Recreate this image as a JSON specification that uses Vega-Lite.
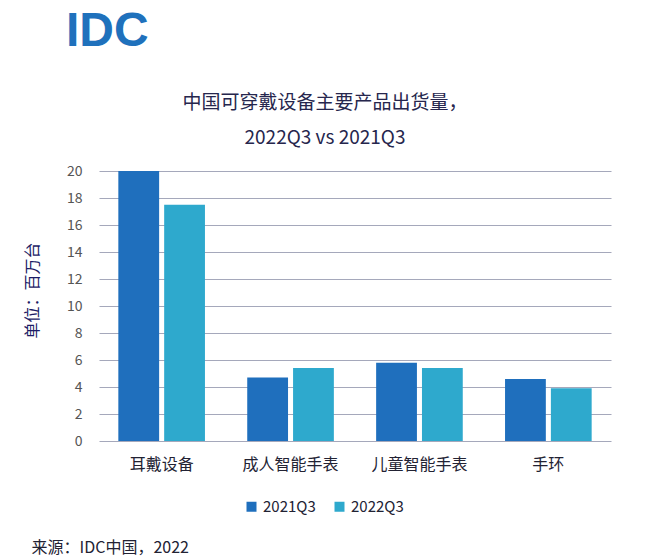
{
  "$schema": "https://vega.github.io/schema/vega-lite/v6.json",
  "background": "white",
  "padding": {"left": 24, "top": 8, "right": 5, "bottom": 5},
  "title": {"text": "IDC", "anchor": "start", "frame": "bounds", "font": "Liberation Sans", "fontWeight": "bold", "fontSize": 48, "color": "#1f71bc", "dx": 42, "offset": 38},
  "config": {"view": {"stroke": null}, "font": "Noto Sans CJK SC"},
  "vconcat": [
    {
      "width": 512,
      "height": 270,
      "title": {"text": ["中国可穿戴设备主要产品出货量，", "2022Q3 vs 2021Q3"], "font": "Noto Sans CJK SC", "fontSize": 19, "fontWeight": "normal", "color": "#26264d", "lineHeight": 35, "anchor": "middle", "frame": "group", "dx": -30, "offset": 16},
      "data": {"values": [
        {"product": "耳戴设备", "period": "2021Q3", "value": 20.0},
        {"product": "耳戴设备", "period": "2022Q3", "value": 17.5},
        {"product": "成人智能手表", "period": "2021Q3", "value": 4.7},
        {"product": "成人智能手表", "period": "2022Q3", "value": 5.4},
        {"product": "儿童智能手表", "period": "2021Q3", "value": 5.8},
        {"product": "儿童智能手表", "period": "2022Q3", "value": 5.4},
        {"product": "手环", "period": "2021Q3", "value": 4.6},
        {"product": "手环", "period": "2022Q3", "value": 3.9}
      ]},
      "mark": {"type": "bar"},
      "encoding": {
        "x": {"field": "product", "type": "nominal", "sort": ["耳戴设备", "成人智能手表", "儿童智能手表", "手环"],
          "scale": {"paddingInner": 0.328, "paddingOuter": 0.15},
          "axis": {"labelAngle": 0, "labelFontSize": 16, "labelColor": "#222233", "labelPadding": 15, "ticks": false, "domain": false, "grid": false,
            "title": "来源：IDC中国，2022", "titleFontSize": 16, "titleFontWeight": "normal", "titleColor": "#222233", "titleAlign": "left", "titleX": -68, "titleY": 106, "titleBaseline": "middle"}},
        "xOffset": {"field": "period", "type": "nominal", "scale": {"paddingInner": 0.11}},
        "y": {"field": "value", "type": "quantitative", "scale": {"domain": [0, 20]},
          "axis": {"values": [0, 2, 4, 6, 8, 10, 12, 14, 16, 18, 20], "labelFontSize": 14, "labelColor": "#555555", "labelPadding": 17, "ticks": false, "domain": false,
            "gridColor": "#a5a8bb", "gridWidth": 1.2,
            "title": "单位：百万台", "titleFontSize": 16, "titleFontWeight": "normal", "titleColor": "#1c1c66", "titleX": -67, "titleY": 119, "titleBaseline": "middle", "titleAlign": "center", "titleAngle": -90}},
        "color": {"field": "period", "type": "nominal", "scale": {"range": ["#1f6fbd", "#2ea9cd"]},
          "legend": {"orient": "none", "legendX": 145, "legendY": 328, "direction": "horizontal", "title": null, "symbolType": "square", "symbolSize": 100, "labelFontSize": 15, "labelColor": "#222233", "columnPadding": 16, "labelOffset": 4}}
      }
    }
  ]
}
